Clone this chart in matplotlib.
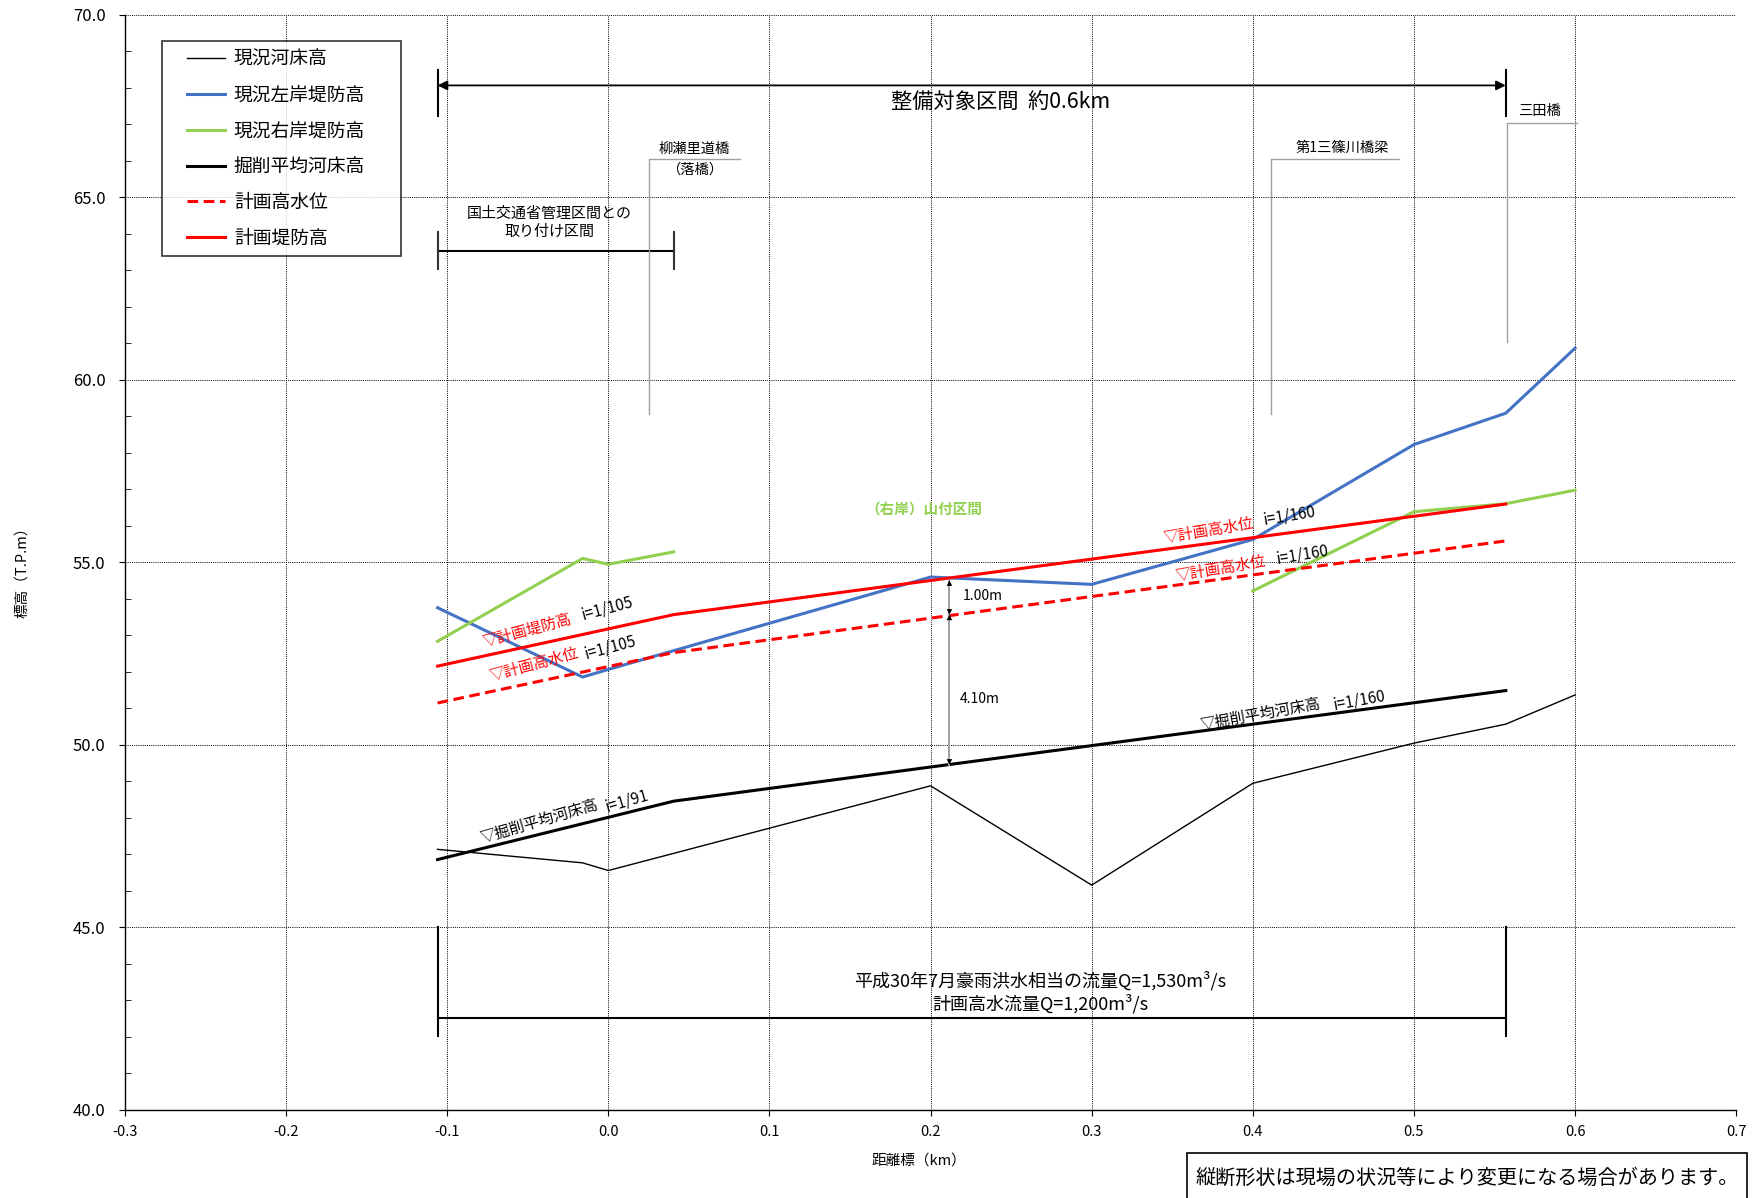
import numpy as np
import matplotlib
matplotlib.use('Agg')
import matplotlib.pyplot as plt
from matplotlib.patches import Rectangle
from matplotlib.ticker import MultipleLocator, FormatStrFormatter
from matplotlib.legend_handler import HandlerLine2D
from matplotlib.lines import Line2D

plt.rcParams['font.family'] = ['Noto Sans CJK JP', 'DejaVu Sans']
plt.rcParams['axes.unicode_minus'] = True

nan = np.nan

# ---- data (distance km, elevation T.P.m) ----
bed_x = [-0.106, -0.016, 0.0, 0.2, 0.3, 0.4, 0.5, 0.557, 0.6]
bed_y = [47.14, 46.77, 46.56, 48.88, 46.16, 48.95, 50.05, 50.57, 51.37]

left_x = [-0.106, -0.016, 0.0, 0.2, 0.3, 0.4, 0.5, 0.557, 0.6]
left_y = [53.76, 51.86, 52.07, 54.60, 54.40, 55.63, 58.23, 59.09, 60.87]

right_x = [-0.106, -0.016, 0.0, 0.0405, nan, 0.4, 0.5, 0.557, 0.6]
right_y = [52.84, 55.11, 54.95, 55.29, nan, 54.22, 56.39, 56.61, 56.98]

exc_x = [-0.106, 0.0405, 0.557]
exc_y = [46.86, 48.46, 51.49]

hwl_x = [-0.106, 0.0405, 0.557]
hwl_y = [51.15, 52.53, 55.59]

levee_x = [-0.106, 0.0405, 0.557]
levee_y = [52.16, 53.57, 56.60]

series_labels = ['現況河床高', '現況左岸堤防高', '現況右岸堤防高', '掘削平均河床高', '計画高水位', '計画堤防高']

x_ticks = [-0.3, -0.2, -0.1, 0.0, 0.1, 0.2, 0.3, 0.4, 0.5, 0.6, 0.7]
y_ticks = [40.0, 45.0, 50.0, 55.0, 60.0, 65.0, 70.0]

BLUE = '#4472C4'
GREEN = '#92D050'
RED = '#FF0000'
GRAY = '#A0A0A0'

LEG_FS = 13.5
LEG_SHIFT = 0.91  # em of empty space before each legend key line


class ShiftedLine(HandlerLine2D):
    def create_artists(self, legend, orig_handle, xdescent, ydescent, width, height,
                       fontsize, trans):
        arts = super().create_artists(legend, orig_handle, xdescent, ydescent, width,
                                      height, fontsize, trans)
        for a in arts:
            xd = np.asarray(a.get_xdata(), dtype=float)
            if len(xd) >= 2:
                a.set_xdata(np.linspace(xd[0] + LEG_SHIFT * fontsize, xd[-1], len(xd)))
        return arts


fig = plt.figure(figsize=(17.56, 11.98), dpi=100)
ax = fig.add_axes([0.0712, 0.0735, 0.9175, 0.914])
ax.set_xlim(-0.3, 0.7)
ax.set_ylim(40, 70)
ax.set_xticks(x_ticks)
ax.set_yticks(y_ticks)
ax.xaxis.set_major_formatter(FormatStrFormatter('%.1f'))
ax.yaxis.set_major_formatter(FormatStrFormatter('%.1f'))
ax.yaxis.set_minor_locator(MultipleLocator(1.0))
ax.tick_params(axis='both', which='major', direction='out', length=4)
ax.tick_params(axis='x', which='major', labelsize=10.5, pad=7)
ax.tick_params(axis='y', which='major', labelsize=12, pad=10)
ax.tick_params(axis='y', which='minor', direction='in', length=4)
ax.grid(True, which='major', color='black', linestyle=(0, (1, 1.2)), linewidth=0.7)
ax.set_axisbelow(True)
for s in ['top', 'right']:
    ax.spines[s].set_visible(False)
ax.spines['left'].set_linewidth(1.0)
ax.spines['bottom'].set_linewidth(1.0)

# ---- series ----
ax.plot(bed_x, bed_y, color='black', lw=1.0, label=series_labels[0], zorder=5)
ax.plot(left_x, left_y, color=BLUE, lw=2.2, label=series_labels[1], zorder=5)
ax.plot(right_x, right_y, color=GREEN, lw=2.2, label=series_labels[2], zorder=5)
ax.plot(exc_x, exc_y, color='black', lw=2.2, label=series_labels[3], zorder=6)
ax.plot(hwl_x, hwl_y, color=RED, lw=2.2, dashes=(3.5, 1.8), label=series_labels[4], zorder=6)
ax.plot(levee_x, levee_y, color=RED, lw=2.2, label=series_labels[5], zorder=6)

leg = ax.legend(loc='upper left', bbox_to_anchor=(0.0232, 0.5, 0.1481, 0.476), mode='expand',
                borderaxespad=0, fontsize=LEG_FS, frameon=True, fancybox=False,
                edgecolor='black', handlelength=2.93, handletextpad=0.48,
                labelspacing=0.79, borderpad=0.4,
                handler_map={Line2D: ShiftedLine()})
leg.get_frame().set_linewidth(1.2)

# ---- top span arrow ----
x0, x1 = -0.106, 0.557
ax.annotate('', xy=(x0, 68.07), xytext=(x1, 68.07),
            arrowprops=dict(arrowstyle='<|-|>', color='black', lw=1.3,
                            mutation_scale=14, shrinkA=0, shrinkB=0))
for xv in (x0, x1):
    ax.plot([xv, xv], [67.24, 68.5], color='black', lw=1.5)
ax.text(0.2437, 67.61, '整備対象区間  約0.6km', fontsize=15.3, ha='center', va='center')

# ---- MLIT section bracket ----
ax.plot([-0.106, 0.0405], [63.53, 63.53], color='black', lw=1.5)
for xv in (-0.106, 0.0405):
    ax.plot([xv, xv], [63.03, 64.06], color='#333333', lw=1.5)
ax.text(-0.0366, 64.31, '国土交通省管理区間との\n取り付け区間', fontsize=10.8,
        ha='center', va='center', linespacing=1.35)

# ---- bridges ----
ax.plot([0.0255, 0.0255, 0.0815], [59.06, 66.05, 66.05], color=GRAY, lw=1.0)
ax.text(0.0535, 66.32, '柳瀬里道橋', fontsize=10.3, ha='center', va='center')
ax.text(0.0535, 65.77, '（落橋）', fontsize=10.3, ha='center', va='center')

ax.plot([0.4111, 0.4111, 0.4907], [59.06, 66.05, 66.05], color=GRAY, lw=1.0)
ax.text(0.4554, 66.36, '第1三篠川橋梁', fontsize=10.3, ha='center', va='center')

ax.plot([0.5575, 0.5575, 0.601], [61.05, 67.05, 67.05], color=GRAY, lw=1.0)
ax.text(0.578, 67.36, '三田橋', fontsize=10.3, ha='center', va='center')

# ---- right bank mountain section ----
ax.text(0.196, 56.48, '（右岸）山付区間', fontsize=10.5, color=GREEN, fontweight='bold',
        ha='center', va='center')

# ---- dimension arrows ----
dim_x = 0.2117
ax.plot([dim_x, dim_x], [54.51, 49.46], color=GRAY, lw=1.4, zorder=7)
for ya, yb in ((54.51, 53.57), (53.57, 49.46)):
    ax.annotate('', xy=(dim_x, ya), xytext=(dim_x, yb),
                arrowprops=dict(arrowstyle='<|-|>', color='black', lw=0.0,
                                mutation_scale=10, shrinkA=0, shrinkB=0), zorder=8)
ax.text(0.2198, 54.09, '1.00m', fontsize=10, ha='left', va='center')
ax.text(0.2178, 51.26, '4.10m', fontsize=10, ha='left', va='center')

# ---- line labels (rotated) ----
def rlabel(x, y, s, color, rot, size=11):
    ax.text(x, y, s, color=color, fontsize=size, rotation=rot, rotation_mode='anchor',
            ha='left', va='baseline', zorder=9)

rlabel(-0.077, 52.70, '▽計画堤防高', RED, 15)
rlabel(-0.0159, 53.43, 'i=1/105', 'black', 15)
rlabel(-0.0728, 51.74, '▽計画高水位', RED, 15)
rlabel(-0.0138, 52.38, 'i=1/105', 'black', 15)
rlabel(-0.078, 47.30, '▽掘削平均河床高', 'black', 16.3)
rlabel(-0.0010, 48.17, 'i=1/91', 'black', 16.3)
rlabel(0.345, 55.53, '▽計画高水位', RED, 9.5)
rlabel(0.407, 56.03, 'i=1/160', 'black', 9.5)
rlabel(0.3523, 54.48, '▽計画高水位', RED, 9.5)
rlabel(0.4154, 54.98, 'i=1/160', 'black', 9.5)
rlabel(0.3678, 50.42, '▽掘削平均河床高', 'black', 10.3)
rlabel(0.4505, 50.97, 'i=1/160', 'black', 10.3)

# ---- discharge bracket ----
for xv in (x0, x1):
    ax.plot([xv, xv], [42.02, 45.0], color='black', lw=1.5)
ax.plot([x0, x1], [42.52, 42.52], color='black', lw=1.5)
ax.text(0.268, 43.54, '平成30年7月豪雨洪水相当の流量Q=1,530m³/s', fontsize=13,
        ha='center', va='center')
ax.text(0.268, 42.90, '計画高水流量Q=1,200m³/s', fontsize=13, ha='center', va='center')

# ---- axis labels ----
fig.text(22 / 1756, 1 - 569 / 1198, '標高（T.P.m）', rotation=90, fontsize=10.5,
         ha='center', va='center')
fig.text(919 / 1756, 1 - 1161 / 1198, '距離標（km）', fontsize=10.5, ha='center', va='center')

# ---- note box ----
fig.patches.append(Rectangle((1187 / 1756, -0.01), 560 / 1756, (1198 - 1153) / 1198 + 0.01,
                             transform=fig.transFigure, fill=False, edgecolor='black', lw=1.2))
fig.text(1467 / 1756, 1 - 1178 / 1198, '縦断形状は現場の状況等により変更になる場合があります。',
         fontsize=14.5, ha='center', va='center')

fig.savefig('out.png', dpi=100)
